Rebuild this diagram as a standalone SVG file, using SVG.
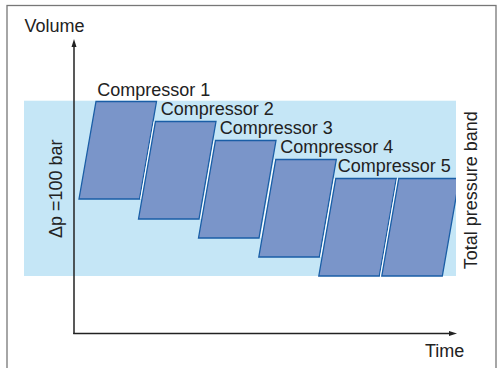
<svg xmlns="http://www.w3.org/2000/svg" width="499" height="368" viewBox="0 0 499 368">
<style>
.t{font-family:"Liberation Sans",Arial,sans-serif;font-size:18px;fill:#222}
.c{fill:#7a95c9;stroke:#1a5ea6;stroke-width:1.3;stroke-linejoin:miter}
.gap{stroke:#fff;stroke-width:1.3;fill:none}
.ax{stroke:#222;stroke-width:1.5;fill:none}
</style>
<defs>
<clipPath id="bandClip"><rect x="24" y="100" width="432" height="178"/></clipPath>
</defs>
<rect id="frame" x="7" y="5.5" width="489" height="370" fill="#fff" stroke="#777" stroke-width="1.3"/>
<g id="band">
<rect x="24" y="100.7" width="432" height="175.3" fill="#c5e6f6"/>
</g>
<g id="compressor1">
<polygon class="c" points="96,101.5 156.5,101.5 139.5,199 79,199"/>
</g>
<g id="compressor2">
<line class="gap" x1="154.25" y1="121.5" x2="140.75" y2="199"/>
<polygon class="c" points="155.5,121.5 216,121.5 199,219 138.5,219"/>
</g>
<g id="compressor3">
<line class="gap" x1="214.25" y1="140.5" x2="200.75" y2="219"/>
<polygon class="c" points="215.5,140.5 276,140.5 259,238 198.5,238"/>
</g>
<g id="compressor4">
<line class="gap" x1="274.55" y1="159.5" x2="260.8" y2="238"/>
<polygon class="c" points="275.8,159.5 336.3,159.5 319.3,257 258.8,257"/>
</g>
<g id="compressor5">
<line class="gap" x1="334.55" y1="178.5" x2="320.8" y2="257"/>
<polygon class="c" points="335.8,178.5 396.3,178.5 379.3,276 318.8,276"/>
</g>
<g id="compressor6" clip-path="url(#bandClip)">
<line class="gap" x1="397.55" y1="178.5" x2="380.55" y2="276"/>
<polygon class="c" points="398.8,178.5 459.3,178.5 442.3,276 381.8,276"/>
</g>
<g id="axes">
<line class="ax" x1="74" y1="334" x2="74" y2="45"/>
<polygon points="74,39 71.5,47 76.5,47" fill="#222"/>
<line class="ax" x1="73.25" y1="333.5" x2="451" y2="333.5"/>
<polygon points="457,333.5 449,331 449,336" fill="#222"/>
</g>
<g id="labels">
<text class="t" x="24.5" y="31.5">Volume</text>
<text class="t" x="97.3" y="95.5">Compressor 1</text>
<text class="t" x="160.8" y="114.8">Compressor 2</text>
<text class="t" x="219.8" y="133.8">Compressor 3</text>
<text class="t" x="280.3" y="152.8">Compressor 4</text>
<text class="t" x="337.8" y="171.8">Compressor 5</text>
<text class="t" x="425" y="356.7">Time</text>
<text class="t" text-anchor="middle" transform="translate(61.5,188.7) rotate(-90)">Δp =100 bar</text>
<text class="t" text-anchor="middle" transform="translate(476.5,190.3) rotate(-90)">Total pressure band</text>
</g>
</svg>
